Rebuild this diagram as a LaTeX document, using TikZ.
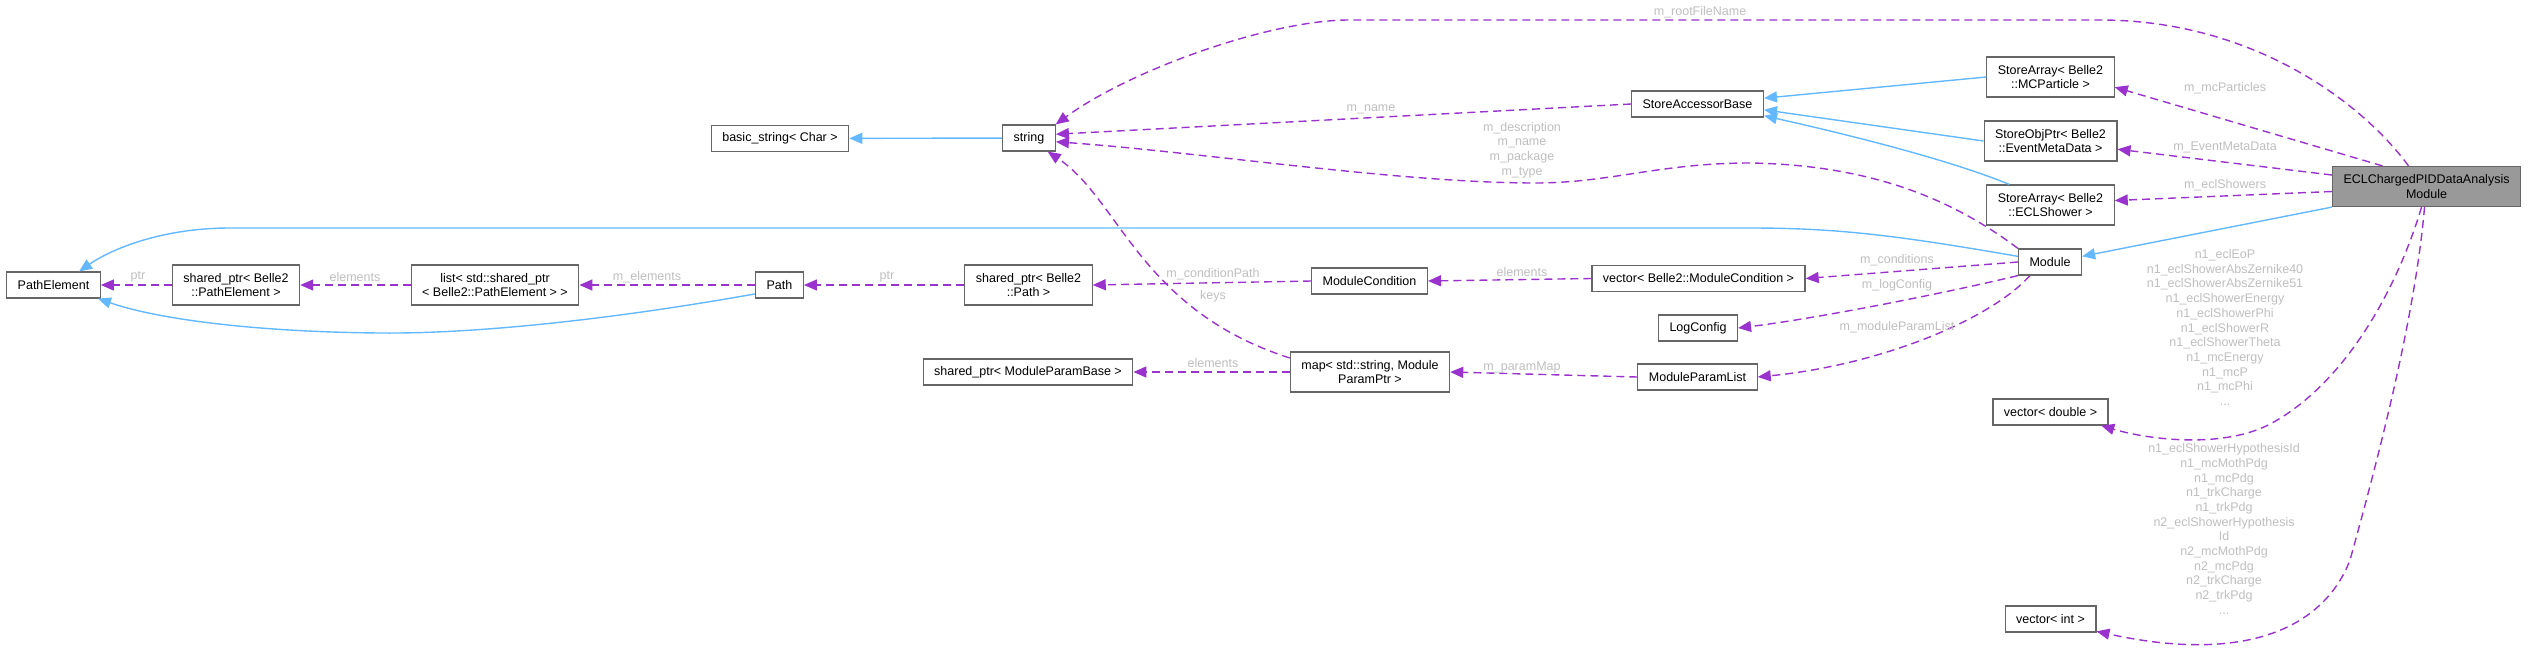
\documentclass[tikz,border=0pt]{standalone}
\usepackage{fontspec}
\setmainfont{Liberation Sans}
\usetikzlibrary{arrows.meta}
\definecolor{edgeblue}{HTML}{63B8FF}
\definecolor{edgepurple}{HTML}{9A32CD}
\definecolor{boxgray}{HTML}{666666}
\definecolor{labelgray}{HTML}{BEBEBE}
\definecolor{mainfill}{HTML}{999999}

\begin{document}
\begin{tikzpicture}[x=1pt, y=-1pt,
    cls/.style={draw=boxgray, line width=1.2pt, fill=white, inner xsep=11pt, inner ysep=0pt,
      minimum height=26pt, align=center, font=\fontsize{12.5}{14.7}\selectfont},
    cls2/.style={cls, minimum height=40pt},
    inherit/.style={edgeblue, line width=1.4pt, -{Triangle[length=13pt,width=11pt]}},
    uses/.style={edgepurple, line width=1.4pt, dash pattern=on 8pt off 5pt,
      -{Triangle[length=13pt,width=11pt]}},
    lbl/.style={labelgray, align=center, inner sep=0pt, font=\fontsize{12.5}{14.7}\selectfont}]
  \useasboundingbox (0,0) rectangle (2529,654);

  % Draw the classes
  \node[cls] (pathelem) at (53.5,285) {PathElement};
  \node[cls2] (sp1) at (236,285) {shared\_ptr< Belle2\\::PathElement >};
  \node[cls2] (list) at (495,285) {list< std::shared\_ptr\\< Belle2::PathElement > >};
  \node[cls] (path) at (779.5,285) {Path};
  \node[cls] (basicstr) at (780,138.5) {basic\_string< Char >};
  \node[cls] (string) at (1029,138) {string};
  \node[cls2] (sp2) at (1028.5,285) {shared\_ptr< Belle2\\::Path >};
  \node[cls] (modcond) at (1369.5,281) {ModuleCondition};
  \node[cls] (vecmc) at (1698.5,278.5) {vector< Belle2::ModuleCondition >};
  \node[cls] (logcfg) at (1698,328) {LogConfig};
  \node[cls] (spmpb) at (1028,372) {shared\_ptr< ModuleParamBase >};
  \node[cls2] (map) at (1370,372) {map< std::string, Module\\ParamPtr >};
  \node[cls] (mpl) at (1697.5,377) {ModuleParamList};
  \node[cls] (sab) at (1697.5,104) {StoreAccessorBase};
  \node[cls2] (mcp) at (2050.5,77) {StoreArray< Belle2\\::MCParticle >};
  \node[cls2] (emd) at (2050.5,141) {StoreObjPtr< Belle2\\::EventMetaData >};
  \node[cls2] (eclsh) at (2050.5,205) {StoreArray< Belle2\\::ECLShower >};
  \node[cls2, fill=mainfill] (ecl) at (2426.5,186.5) {ECLChargedPIDDataAnalysis\\Module};
  \node[cls] (module) at (2050,262) {Module};
  \node[cls] (vecd) at (2050.5,412) {vector< double >};
  \node[cls] (vecint) at (2050.5,619) {vector< int >};

  % Draw the inheritance
  \draw[inherit] (string) -- (basicstr);
  \draw[inherit] (module.170) .. controls (1900,236) and (1840,228) .. (1750,228) -- (230,228)
    .. controls (160,228) and (110,250) .. (pathelem.28);
  \draw[inherit] (path.200) .. controls (620,318) and (480,334) .. (380,333)
    .. controls (260,332) and (160,320) .. (pathelem.-17);
  \draw[inherit] (mcp.west) -- (sab.5);
  \draw[inherit] (emd.west) -- (sab.-5);
  \draw[inherit] ([xshift=23pt]eclsh.north west) .. controls (1950,160) and (1850,135) .. (sab.-10);
  \draw[inherit] (ecl.south west) -- (module.10);

  % Draw the members
  \draw[uses] (sp1) -- (pathelem);
  \draw[uses] (list) -- (sp1);
  \draw[uses] (path) -- (list);
  \draw[uses] (sp2) -- (path);
  \draw[uses] (modcond.west) -- (sp2.east);
  \draw[uses] (vecmc.west) -- (modcond.east);
  \draw[uses] (module.west) -- (vecmc.east);
  \draw[uses] (module.south west) .. controls (1950,292) and (1820,318) .. (logcfg.east);
  \draw[uses] ([xshift=12pt]module.south west) .. controls (1990,320) and (1880,365) .. (mpl.east);
  \draw[uses] (mpl.west) -- (map.east);
  \draw[uses] (map.west) -- (spmpb.east);
  \draw[uses] ([yshift=14pt]map.west) .. controls (1140,310) and (1120,200) .. (string.-36);
  \draw[uses] (sab.west) -- (string.8);
  \draw[uses] (module.north west) .. controls (1960,205) and (1880,165) .. (1750,163)
    .. controls (1660,163) and (1610,183) .. (1535,183)
    .. controls (1400,183) and (1200,152) .. (string.-8);
  \draw[uses] ([xshift=-18pt]ecl.north) .. controls (2360,100) and (2250,20) .. (2100,20) -- (1349,20)
    .. controls (1270,20) and (1130,70) .. (string.27);
  \draw[uses] ([xshift=-44pt]ecl.north) -- (mcp.-9);
  \draw[uses] ([yshift=11.5pt]ecl.west) -- (emd.-7);
  \draw[uses] ([yshift=-5pt]ecl.west) -- (eclsh.4);
  \draw[uses] ([xshift=-5pt]ecl.south) .. controls (2400,280) and (2350,380) .. (2272,423)
    .. controls (2225,449) and (2150,440) .. (vecd.-15);
  \draw[uses] ([xshift=-2pt]ecl.south) .. controls (2415,320) and (2375,470) .. (2350,560)
    .. controls (2325,625) and (2250,665) .. (vecint.-15);

  % Label the members
  \node[lbl] (lptr) at (138,277) {ptr};
  \node[lbl] (lelem) at (355,277) {elements};
  \node[lbl] (lmelem) at (647,277) {m\_elements};
  \node[lbl] (lptrb) at (887,277) {ptr};
  \node[lbl] (lcondpath) at (1213,274) {m\_conditionPath};
  \node[lbl] (lkeys) at (1213,296) {keys};
  \node[lbl] (lelemb) at (1522,272) {elements};
  \node[lbl] (lcond) at (1897,260) {m\_conditions};
  \node[lbl] (llog) at (1897,285) {m\_logConfig};
  \node[lbl] (lmpl) at (1897,327) {m\_moduleParamList};
  \node[lbl] (lelemc) at (1213,363) {elements};
  \node[lbl] (lpmap) at (1522,367) {m\_paramMap};
  \node[lbl] (lname) at (1371,109) {m\_name};
  \node[lbl] (ldesc) at (1522,150) {m\_description\\m\_name\\m\_package\\m\_type};
  \node[lbl] (lroot) at (1700,12) {m\_rootFileName};
  \node[lbl] (lmcp) at (2225,88) {m\_mcParticles};
  \node[lbl] (lemd) at (2225,147) {m\_EventMetaData};
  \node[lbl] (lshow) at (2225,185) {m\_eclShowers};
  \node[lbl] (ldouble) at (2225,327.5) {n1\_eclEoP\\n1\_eclShowerAbsZernike40\\n1\_eclShowerAbsZernike51\\
    n1\_eclShowerEnergy\\n1\_eclShowerPhi\\n1\_eclShowerR\\n1\_eclShowerTheta\\n1\_mcEnergy\\n1\_mcP\\n1\_mcPhi\\...};
  \node[lbl] (lint) at (2224,529) {n1\_eclShowerHypothesisId\\n1\_mcMothPdg\\n1\_mcPdg\\n1\_trkCharge\\n1\_trkPdg\\
    n2\_eclShowerHypothesis\\Id\\n2\_mcMothPdg\\n2\_mcPdg\\n2\_trkCharge\\n2\_trkPdg\\...};
\end{tikzpicture}
\end{document}
